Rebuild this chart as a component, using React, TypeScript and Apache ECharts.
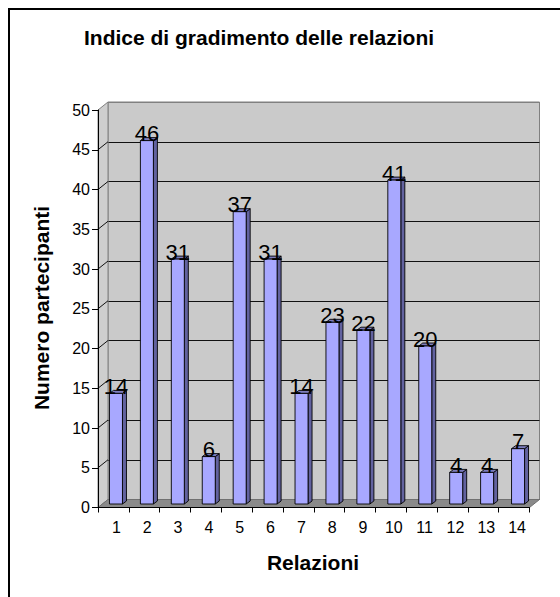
import React, { useEffect, useRef } from "react";
import * as echarts from "echarts";

const categories = ["1", "2", "3", "4", "5", "6", "7", "8", "9", "10", "11", "12", "13", "14"];
const values = [14, 46, 31, 6, 37, 31, 14, 23, 22, 41, 20, 4, 4, 7];
const yTicks = [0, 5, 10, 15, 20, 25, 30, 35, 40, 45, 50];
const titleText = "Indice di gradimento delle relazioni";
const xTitle = "Relazioni";
const yTitle = "Numero partecipanti";

const FONT = '"Liberation Sans", Arial, sans-serif';
const DX = 10;
const DY = 8;
const front = { left: 98, top: 110, right: 30.5, bottom: 89.5 };
const back = { left: front.left + DX, top: front.top - DY, right: front.right - DX, bottom: front.bottom + DY };
const mid = { left: 102, top: 109, right: 25, bottom: 93 };

const FW = 13; // bar front width
const SD = 4; // side depth x
const ST = 3; // side depth y

export default function App() {
  const ref = useRef<HTMLDivElement>(null);
  useEffect(() => {
    if (!ref.current) return;
    const chart = echarts.init(ref.current, undefined, { renderer: "svg" });
    const splitColors = yTicks.map((v, i) => (i === yTicks.length - 1 ? "#808080" : "#111111"));
    chart.setOption({
      animation: false,
      backgroundColor: "#ffffff",
      grid: [
        { ...front, show: false },
        { ...back, show: true, backgroundColor: "#cacaca", borderColor: "#808080", borderWidth: 1, z: 0 },
        { ...mid, show: false },
      ],
      xAxis: [
        {
          type: "category",
          gridIndex: 0,
          data: categories,
          z: 10,
          axisLine: { show: true, lineStyle: { color: "#000", width: 1 } },
          axisTick: { show: true, length: 5, lineStyle: { color: "#000" } },
          axisLabel: { color: "#000", fontSize: 16, fontFamily: FONT, margin: 12, padding: [0, 0, 0, 6] },
          splitLine: { show: false },
        },
        { type: "category", gridIndex: 1, data: categories, show: false },
        { type: "category", gridIndex: 2, data: categories, show: false },
      ],
      yAxis: [
        {
          type: "value",
          gridIndex: 0,
          min: 0,
          max: 50,
          interval: 5,
          z: 10,
          axisLine: { show: true, lineStyle: { color: "#000", width: 1 } },
          axisTick: { show: true, length: 6, lineStyle: { color: "#000" } },
          axisLabel: { color: "#000", fontSize: 16, fontFamily: FONT, margin: 8 },
          splitLine: { show: false },
        },
        {
          type: "value",
          gridIndex: 1,
          min: 0,
          max: 50,
          interval: 5,
          axisLine: { show: false },
          axisTick: { show: false },
          axisLabel: { show: false },
          splitLine: { show: true, lineStyle: { color: splitColors, width: 1 } },
        },
        { type: "value", gridIndex: 2, min: 0, max: 50, interval: 5, show: false, splitLine: { show: false } },
      ],
      series: [
        {
          type: "custom",
          name: "frame",
          xAxisIndex: 1,
          yAxisIndex: 1,
          z: 1,
          silent: true,
          data: [[0, 0]],
          renderItem: (params: any, api: any) => {
            const cs = params.coordSys;
            const x0 = cs.x;
            const x1 = cs.x + cs.width;
            const yb = (v: number) => api.coord([0, v])[1];
            const y0 = yb(0);
            const yTop = yb(50);
            const children: any[] = [];
            children.push({
              type: "polygon",
              shape: { points: [[x0, yTop], [x0, y0], [x0 - DX, y0 + DY], [x0 - DX, yTop + DY]] },
              style: { fill: "#cecece", stroke: "#808080", lineWidth: 1 },
            });
            yTicks.forEach((v) => {
              if (v === 0 || v === 50) return;
              const y = yb(v);
              children.push({
                type: "line",
                shape: { x1: x0, y1: y, x2: x0 - DX, y2: y + DY },
                style: { stroke: "#111", lineWidth: 1 },
              });
            });
            children.push({
              type: "polygon",
              shape: { points: [[x0, y0], [x1, y0], [x1 - DX, y0 + DY], [x0 - DX, y0 + DY]] },
              style: { fill: "#8a8a8a", stroke: "#707070", lineWidth: 1 },
            });
            return { type: "group", children };
          },
        },
        {
          type: "custom",
          name: "Numero partecipanti",
          xAxisIndex: 2,
          yAxisIndex: 2,
          z: 3,
          data: values.map((v, i) => [i, v]),
          encode: { x: 0, y: 1 },
          renderItem: (params: any, api: any) => {
            const i = api.value(0);
            const v = api.value(1);
            const [cx, top] = api.coord([i, v]);
            const base = api.coord([i, 0])[1];
            const fl = cx - 8;
            const fr = fl + FW;
            return {
              type: "group",
              children: [
                {
                  type: "polygon",
                  shape: { points: [[fr, top], [fr + SD, top - ST], [fr + SD, base - ST], [fr, base]] },
                  style: { fill: "#62629f", stroke: "#000", lineWidth: 0.9 },
                },
                {
                  type: "polygon",
                  shape: { points: [[fl, top], [fr, top], [fr + SD, top - ST], [fl + SD, top - ST]] },
                  style: { fill: "#7c7cbc", stroke: "#000", lineWidth: 0.9 },
                },
                {
                  type: "rect",
                  shape: { x: fl, y: top, width: FW, height: base - top },
                  style: { fill: "#a8a8ff", stroke: "#000", lineWidth: 0.9 },
                },
                {
                  type: "text",
                  z2: 10,
                  style: {
                    text: String(v),
                    x: fl + FW / 2,
                    y: top + 4,
                    align: "center",
                    verticalAlign: "bottom",
                    textAlign: "center",
                    textVerticalAlign: "bottom",
                    fontSize: 22,
                    fontFamily: FONT,
                    fill: "#000",
                  },
                },
              ],
            };
          },
        },
      ],
      graphic: [
        {
          type: "rect",
          silent: true,
          shape: { x: 9, y: 9, width: 620, height: 660 },
          style: { fill: "none", stroke: "#000", lineWidth: 2 },
        },
        {
          type: "text",
          x: 259,
          y: 37,
          style: {
            text: titleText,
            x: 0,
            y: 0,
            align: "center",
            verticalAlign: "middle",
            textAlign: "center",
            textVerticalAlign: "middle",
            fontSize: 21,
            fontWeight: "bold",
            fontFamily: FONT,
            fill: "#000",
          },
        },
        {
          type: "text",
          x: 313,
          y: 562,
          style: {
            text: xTitle,
            x: 0,
            y: 0,
            align: "center",
            verticalAlign: "middle",
            textAlign: "center",
            textVerticalAlign: "middle",
            fontSize: 21,
            fontWeight: "bold",
            fontFamily: FONT,
            fill: "#000",
          },
        },
        {
          type: "text",
          x: 41,
          y: 308,
          rotation: Math.PI / 2,
          style: {
            text: yTitle,
            x: 0,
            y: 0,
            align: "center",
            verticalAlign: "middle",
            textAlign: "center",
            textVerticalAlign: "middle",
            fontSize: 21,
            fontWeight: "bold",
            fontFamily: FONT,
            fill: "#000",
          },
        },
      ],
    });
    return () => chart.dispose();
  }, []);
  return (
    <div
      ref={ref}
      style={{ position: "absolute", left: 0, top: 0, width: 560, height: 597, background: "#fff" }}
    />
  );
}
